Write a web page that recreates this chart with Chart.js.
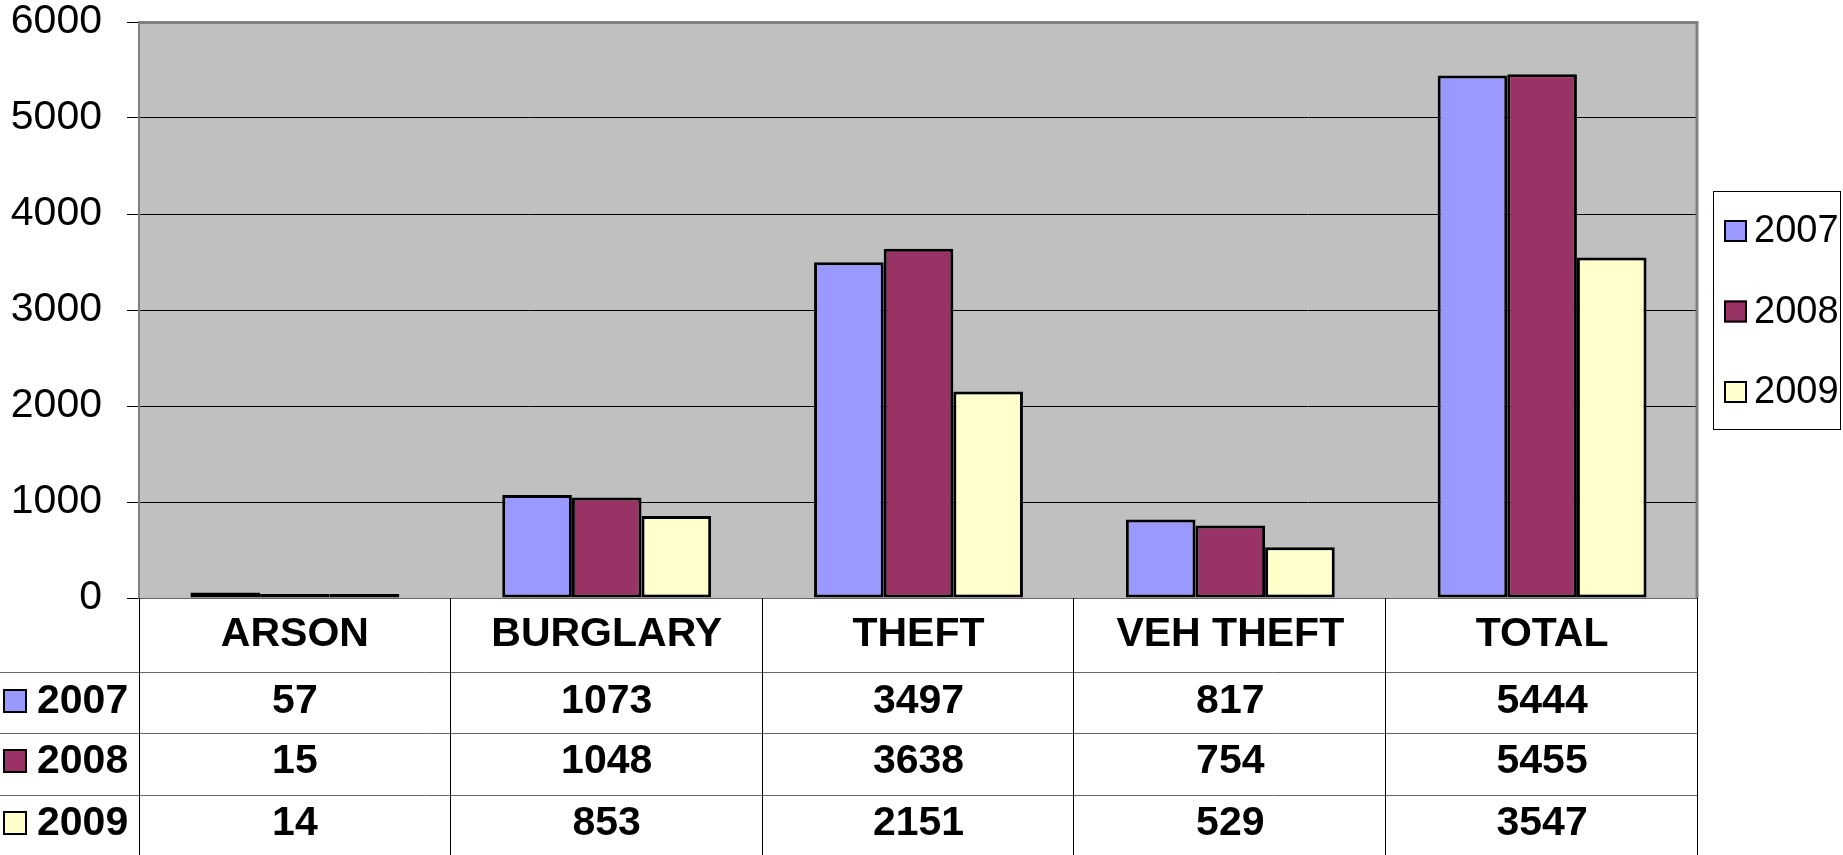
<!DOCTYPE html>
<html>
<head>
<meta charset="utf-8">
<title>Crime counts 2007-2009</title>
<script src="https://cdn.jsdelivr.net/npm/chart.js@4.4.1/dist/chart.umd.min.js"></script>
<style>
  html, body { margin: 0; padding: 0; background: #fff; overflow: hidden; }
  canvas { display: block; }
</style>
</head>
<body>
<canvas id="crimeChart" width="1843" height="855"></canvas>
<script>
const categories = ['ARSON', 'BURGLARY', 'THEFT', 'VEH THEFT', 'TOTAL'];
const years = ['2007', '2008', '2009'];
const values2007 = [57, 1073, 3497, 817, 5444];
const values2008 = [15, 1048, 3638, 754, 5455];
const values2009 = [14, 853, 2151, 529, 3547];
const yTicks = [0, 1000, 2000, 3000, 4000, 5000, 6000];

const series = [values2007, values2008, values2009];
const yearColors = ['#9999FF', '#993366', '#FFFFCC'];
const FONT = '"Liberation Sans", Arial, sans-serif';

// offsets of the table row lines below the plot area
const rowLines = [74, 135, 197];
const rowCenters = [37, 104, 164, 226];

function swatch(ctx, x, y, w, h, color) {
    ctx.fillStyle = color;
    ctx.fillRect(x, y, w, h);
    ctx.strokeStyle = '#000';
    ctx.lineWidth = 2;
    ctx.strokeRect(x + 1, y + 1, w - 2, h - 2);
}

const tablePlugin = {
    id: 'dataTable',
    beforeDraw(chart) {
        const {ctx, chartArea: a} = chart;
        ctx.save();
        ctx.fillStyle = '#C0C0C0';
        ctx.fillRect(a.left, a.top, a.right - a.left, a.bottom - a.top);
        ctx.restore();
    },
    afterDatasetsDraw(chart) {
        const {ctx, chartArea: a} = chart;
        ctx.save();
        ctx.strokeStyle = '#808080';
        ctx.lineWidth = 3;
        ctx.beginPath();
        ctx.moveTo(a.left, a.top + 0.5);
        ctx.lineTo(a.right - 1, a.top + 0.5);
        ctx.lineTo(a.right - 1, a.bottom);
        ctx.stroke();
        ctx.restore();
    },
    afterDraw(chart) {
        const {ctx, chartArea: a} = chart;
        const xs = chart.scales.x;
        const H = chart.height;
        const half = (xs.getPixelForValue(1) - xs.getPixelForValue(0)) / 2;
        ctx.save();

        // horizontal row lines
        ctx.strokeStyle = '#666';
        ctx.lineWidth = 1;
        ctx.beginPath();
        ctx.moveTo(a.left, a.bottom + 0.5);
        ctx.lineTo(a.right, a.bottom + 0.5);
        rowLines.forEach(off => {
            ctx.moveTo(0, a.bottom + off + 0.5);
            ctx.lineTo(a.right, a.bottom + off + 0.5);
        });
        ctx.stroke();

        // vertical column lines
        ctx.strokeStyle = '#000';
        ctx.beginPath();
        ctx.moveTo(a.left + 0.5, a.bottom);
        ctx.lineTo(a.left + 0.5, H);
        categories.forEach((c, i) => {
            const xr = Math.round(xs.getPixelForValue(i) + half) - 0.5;
            ctx.moveTo(xr, a.bottom);
            ctx.lineTo(xr, H);
        });
        ctx.stroke();

        // header + values
        ctx.fillStyle = '#000';
        ctx.font = 'bold 41px ' + FONT;
        ctx.textAlign = 'center';
        ctx.textBaseline = 'middle';
        categories.forEach((c, i) => {
            const cx = xs.getPixelForValue(i);
            ctx.fillText(c, cx, a.bottom + rowCenters[0]);
            series.forEach((vals, s) => {
                ctx.fillText(String(vals[i]), cx, a.bottom + rowCenters[s + 1]);
            });
        });

        // row labels with key
        ctx.textAlign = 'left';
        years.forEach((yr, s) => {
            const cy = a.bottom + rowCenters[s + 1];
            swatch(ctx, 3, cy - 13, 24, 24, yearColors[s]);
            ctx.fillStyle = '#000';
            ctx.fillText(yr, 37, cy);
        });

        // legend on the right
        const lx = a.right + 15, ly = 191, lw = 128, lh = 239;
        ctx.fillStyle = '#fff';
        ctx.fillRect(lx, ly, lw, lh);
        ctx.strokeStyle = '#000';
        ctx.lineWidth = 1;
        ctx.strokeRect(lx + 0.5, ly + 0.5, lw - 1, lh - 1);
        ctx.font = '38px ' + FONT;
        years.forEach((yr, s) => {
            const cy = ly + 40 + s * 80.5;
            swatch(ctx, lx + 11, cy - 11, 23, 22, yearColors[s]);
            ctx.fillStyle = '#000';
            ctx.fillText(yr, lx + 41, cy + 1);
        });
        ctx.restore();
    }
};

const ctx = document.getElementById('crimeChart').getContext('2d');
const crimeChart = new Chart(ctx, {
    type: 'bar',
    data: {
        labels: categories,
        datasets: years.map((yr, s) => ({
            label: yr,
            data: series[s],
            backgroundColor: yearColors[s],
            borderColor: '#000',
            borderWidth: 3,
            borderSkipped: false,
            minBarLength: 4,
            categoryPercentage: 0.67,
            barPercentage: 1.0
        }))
    },
    options: {
        responsive: false,
        animation: false,
        layout: {
            padding: { top: 22, right: 145, bottom: 0, left: 0 }
        },
        scales: {
            y: {
                min: 0,
                max: 6000,
                afterFit: function(scale) {
                    scale.width = 139;
                    scale.paddingTop = 0;
                    scale.paddingBottom = 0;
                },
                afterBuildTicks: function(scale) {
                    scale.ticks = yTicks.map(v => ({ value: v }));
                },
                ticks: {
                    color: '#000',
                    padding: 25,
                    font: { family: FONT, size: 41 },
                    callback: function(value) { return String(value); }
                },
                grid: {
                    color: '#000',
                    lineWidth: 1,
                    tickLength: 12
                },
                border: {
                    color: '#808080',
                    width: 2
                }
            },
            x: {
                afterFit: function(scale) {
                    scale.height = 257;
                    scale.paddingLeft = 0;
                    scale.paddingRight = 0;
                },
                ticks: { display: false },
                grid: { display: false },
                border: { display: false }
            }
        },
        plugins: {
            legend: { display: false },
            tooltip: { enabled: false }
        }
    },
    plugins: [tablePlugin]
});
</script>
</body>
</html>
